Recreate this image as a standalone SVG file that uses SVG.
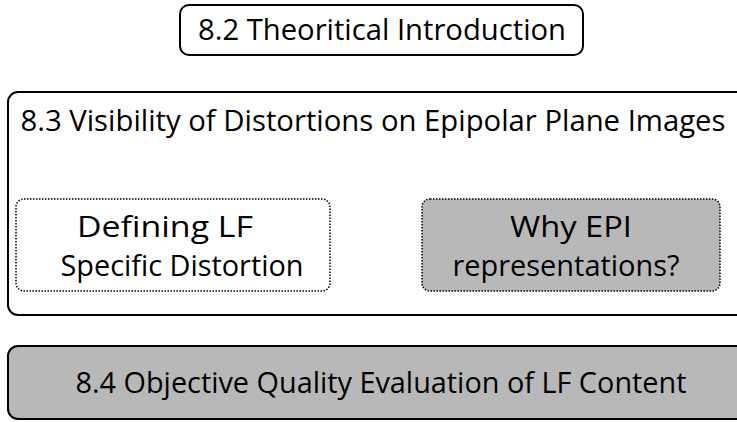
<svg xmlns="http://www.w3.org/2000/svg" width="737" height="422" viewBox="0 0 737 422">
<style>
.t{font-family:"Open Sans","Noto Sans","Liberation Sans",sans-serif;font-size:29px;fill:#000;text-anchor:middle}
.solid{stroke:#000;stroke-width:2}
.dot{stroke:#000;stroke-width:1.5;stroke-dasharray:1.5 1.5}
</style>
<rect x="0" y="0" width="737" height="422" fill="#fff"/>
<g id="n82">
<rect class="solid" x="180" y="5" width="403" height="50" rx="9" fill="#fff"/>
<text class="t" x="382" y="40" textLength="368" lengthAdjust="spacingAndGlyphs">8.2 Theoritical Introduction</text>
</g>
<g id="n83">
<rect class="solid" x="8" y="92" width="745" height="223" rx="10" fill="#fff"/>
<text class="t" x="373" y="131" textLength="705" lengthAdjust="spacingAndGlyphs">8.3 Visibility of Distortions on Epipolar Plane Images</text>
</g>
<g id="nDef">
<rect class="dot" x="16" y="199" width="314" height="92" rx="8" fill="#fff"/>
<text class="t" x="165" y="237" textLength="176" lengthAdjust="spacingAndGlyphs">Defining LF</text>
<text class="t" x="182" y="276" textLength="243" lengthAdjust="spacingAndGlyphs">Specific Distortion</text>
</g>
<g id="nWhy">
<rect class="dot" x="422" y="199" width="298" height="92" rx="8" fill="#b8b8b8"/>
<text class="t" x="571" y="237" textLength="122" lengthAdjust="spacingAndGlyphs">Why EPI</text>
<text class="t" x="566" y="276" textLength="227" lengthAdjust="spacingAndGlyphs">representations?</text>
</g>
<g id="n84">
<rect class="solid" x="8" y="346" width="745" height="73" rx="10" fill="#b8b8b8"/>
<text class="t" x="381" y="393" textLength="611" lengthAdjust="spacingAndGlyphs">8.4 Objective Quality Evaluation of LF Content</text>
</g>
<g id="connectors"/>
</svg>
